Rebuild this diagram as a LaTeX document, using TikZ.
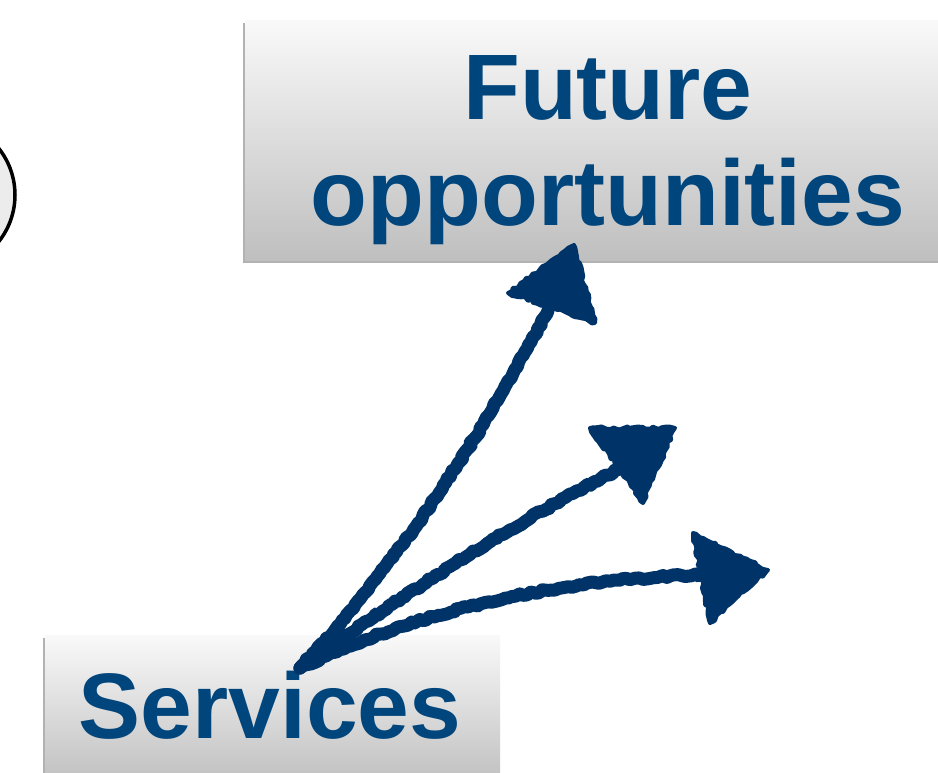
\documentclass[tikz,border=0pt]{standalone}
\usepackage{fontspec}
\setmainfont{Liberation Sans}
\usetikzlibrary{shadows,decorations.pathmorphing,shapes.geometric}
\definecolor{txtblue}{RGB}{0,69,124}
\definecolor{chalk}{RGB}{0,52,104}
\definecolor{boxtop}{RGB}{249,249,249}
\definecolor{boxbot}{RGB}{191,191,191}
\tikzset{
  labelbox/.style={rectangle, inner sep=0pt, top color=boxtop, bottom color=boxbot,
    drop shadow={shadow xshift=-2pt, shadow yshift=-3pt, opacity=0.3, fill=black}},
  labeltext/.style={text=txtblue, font=\fontsize{93}{106}\selectfont\bfseries, align=center},
  chalkline/.style={draw=chalk, line width=13pt, line cap=round, line join=round,
    decorate, decoration={random steps, segment length=4pt, amplitude=1.4pt}},
  chalkhead/.style={fill=chalk, draw=chalk, line width=4pt, line join=round,
    decorate, decoration={random steps, segment length=4pt, amplitude=1.6pt}},
  oval/.style={circle, draw=black, line width=3.5pt, fill=gray!15, minimum size=150pt}
}
\begin{document}
\begin{tikzpicture}[x=1pt,y=-1pt]
\useasboundingbox (0,0) rectangle (938,773);
\clip (0,0) rectangle (938,773);
\fill[white] (0,0) rectangle (938,773);
% partial circle on the left
\node[oval] (circ) at (-60,195) {};
% boxes
\node[labelbox, minimum width=725pt, minimum height=240pt, anchor=north west] (futbox) at (245,20) {};
\node[labeltext, anchor=center] (future) at (608,150) {Future\\opportunities};
\node[labelbox, minimum width=455pt, minimum height=150pt, anchor=north west] (servbox) at (45,635) {};
\node[labeltext, anchor=base] (services) at (270,738) {Services};
% coordinates for arrows
\coordinate (S) at (300,668);
\coordinate (e1) at (548,310);
\coordinate (e2) at (617,470);
\coordinate (e3) at (705,575);
\coordinate (h1a) at (508,293); \coordinate (h1b) at (574,245); \coordinate (h1c) at (595,323);
\coordinate (h2a) at (590,428); \coordinate (h2b) at (675,428); \coordinate (h2c) at (643,503);
\coordinate (h3a) at (693,533); \coordinate (h3b) at (768,570); \coordinate (h3c) at (710,623);
% shafts
\path[chalkline] (S) .. controls (420,540) and (500,400) .. (e1);
\path[chalkline] (S) .. controls (410,590) and (520,520) .. (e2);
\path[chalkline] (S) .. controls (420,610) and (560,578) .. (e3);
% heads
\path[chalkhead] (h1a) -- (h1b) -- (h1c) -- cycle;
\path[chalkhead] (h2a) -- (h2b) -- (h2c) -- cycle;
\path[chalkhead] (h3a) -- (h3b) -- (h3c) -- cycle;
\end{tikzpicture}
\end{document}
